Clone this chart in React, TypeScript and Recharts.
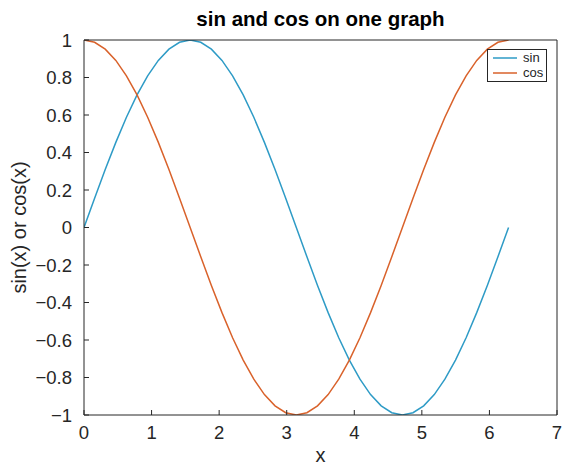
import React from "react";
import { LineChart, Line, XAxis, YAxis, Legend } from "recharts";

const xValues = [
  0, 0.157, 0.314, 0.471, 0.628, 0.785, 0.942, 1.1, 1.257, 1.414, 1.571,
  1.728, 1.885, 2.042, 2.199, 2.356, 2.513, 2.67, 2.827, 2.985, 3.142,
  3.299, 3.456, 3.613, 3.77, 3.927, 4.084, 4.241, 4.398, 4.555, 4.712,
  4.869, 5.027, 5.184, 5.341, 5.498, 5.655, 5.812, 5.969, 6.126, 6.283,
];
const sinValues = [
  0, 0.156, 0.309, 0.454, 0.588, 0.707, 0.809, 0.891, 0.951, 0.988, 1,
  0.988, 0.951, 0.891, 0.809, 0.707, 0.588, 0.454, 0.309, 0.156, 0,
  -0.156, -0.309, -0.454, -0.588, -0.707, -0.809, -0.891, -0.951, -0.988, -1,
  -0.988, -0.951, -0.891, -0.809, -0.707, -0.588, -0.454, -0.309, -0.156, 0,
];
const cosValues = [
  1, 0.988, 0.951, 0.891, 0.809, 0.707, 0.588, 0.454, 0.309, 0.156, 0,
  -0.156, -0.309, -0.454, -0.588, -0.707, -0.809, -0.891, -0.951, -0.988, -1,
  -0.988, -0.951, -0.891, -0.809, -0.707, -0.588, -0.454, -0.309, -0.156, 0,
  0.156, 0.309, 0.454, 0.588, 0.707, 0.809, 0.891, 0.951, 0.988, 1,
];
const seriesNames = ["sin", "cos"];
const xTicks = [0, 1, 2, 3, 4, 5, 6, 7];
const yTicks = [-1, -0.8, -0.6, -0.4, -0.2, 0, 0.2, 0.4, 0.6, 0.8, 1];

const data = xValues.map((x, i) => ({ x, sin: sinValues[i], cos: cosValues[i] }));

const FONT = '"Liberation Sans", Arial, sans-serif';
const INK = "#262626";
const COLORS: Record<string, string> = { sin: "#2E9BC6", cos: "#D9622B" };

const fmt = (v: number) => (v < 0 ? "\u2212" + Math.abs(v) : String(v));

function LegendBox() {
  return (
    <div
      style={{
        border: `1px solid ${INK}`,
        background: "#fff",
        padding: "1px 3px 1px 5px",
        fontFamily: FONT,
        fontSize: 13,
        lineHeight: "14px",
        color: INK,
      }}
    >
      {seriesNames.map((name) => (
        <div key={name} style={{ display: "flex", alignItems: "center", height: 14.5 }}>
          <svg width={24} height={14}>
            <line x1={0} x2={24} y1={7} y2={7} stroke={COLORS[name]} strokeWidth={1.5} />
          </svg>
          <span style={{ marginLeft: 6 }}>{name}</span>
        </div>
      ))}
    </div>
  );
}

function YTitle(props: any) {
  const vb = props.viewBox ?? { x: 0, y: 0, width: 0, height: 0 };
  const cx = vb.x + 19;
  const cy = vb.y + vb.height / 2;
  return (
    <text
      x={cx}
      y={cy}
      transform={`rotate(-90 ${cx} ${cy})`}
      textAnchor="middle"
      dominantBaseline="central"
      fontFamily={FONT}
      fontSize={20}
      fill={INK}
    >
      sin(x) or cos(x)
    </text>
  );
}

export default function App() {
  const tickStyle = { fill: INK, fontSize: 18.5, fontFamily: FONT };
  return (
    <div
      style={{
        position: "absolute",
        left: 0,
        top: 0,
        width: 567,
        height: 468,
        background: "#fff",
      }}
    >
      <LineChart
        width={567}
        height={468}
        data={data}
        margin={{ top: 39, right: 9, bottom: 0, left: 0 }}
      >
        <XAxis
          dataKey="x"
          type="number"
          domain={[0, 7]}
          ticks={xTicks}
          tickFormatter={fmt}
          tick={tickStyle}
          tickSize={-5}
          tickMargin={16}
          height={53}
          stroke={INK}
          allowDataOverflow
          label={{
            value: "x",
            position: "insideBottom",
            offset: 6,
            fill: INK,
            fontSize: 20,
            fontFamily: FONT,
          }}
        />
        <XAxis
          xAxisId="top"
          orientation="top"
          type="number"
          domain={[0, 7]}
          ticks={xTicks}
          tick={false}
          tickSize={-5}
          height={1}
          stroke={INK}
          allowDataOverflow
          label={{
            value: "sin and cos on one graph",
            position: "top",
            offset: 13,
            fill: "#000",
            fontSize: 20.5,
            fontWeight: "bold",
            fontFamily: FONT,
          }}
        />
        <YAxis
          type="number"
          domain={[-1, 1]}
          ticks={yTicks}
          tickFormatter={fmt}
          tick={tickStyle}
          tickSize={-5}
          tickMargin={17}
          width={84}
          stroke={INK}
          allowDataOverflow
          label={{ content: YTitle }}
        />
        <YAxis
          yAxisId="right"
          orientation="right"
          type="number"
          domain={[-1, 1]}
          ticks={yTicks}
          tick={false}
          tickSize={-5}
          width={1}
          stroke={INK}
          allowDataOverflow
        />
        <Legend
          layout="horizontal"
          verticalAlign="middle"
          align="center"
          content={() => <LegendBox />}
          wrapperStyle={{ top: 49, left: 487, width: "auto", height: "auto" }}
        />
        <Line
          dataKey="sin"
          name="sin"
          stroke={COLORS.sin}
          strokeWidth={1.5}
          dot={false}
          isAnimationActive={false}
        />
        <Line
          dataKey="cos"
          name="cos"
          stroke={COLORS.cos}
          strokeWidth={1.5}
          dot={false}
          isAnimationActive={false}
        />
      </LineChart>
    </div>
  );
}
